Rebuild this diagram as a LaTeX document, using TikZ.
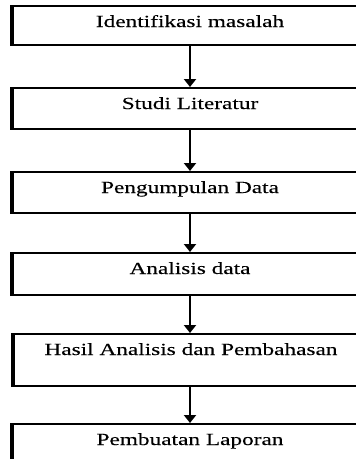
\documentclass[tikz,border=0pt]{standalone}
\usepackage{fontspec}
\setmainfont{Liberation Serif}[FakeStretch=1.37, FakeBold=0.15]
\usepackage{tikz}
\usetikzlibrary{arrows.meta}

\begin{document}
\begin{tikzpicture}[
    x=1pt, y=1pt,
    font=\fontsize{17}{20}\selectfont,
    stepbox/.style={draw, line width=2pt, inner xsep=0pt, inner ysep=0pt, minimum width=354pt, text height=21pt, anchor=north},
    arrow/.style={-{Triangle[width=12pt,length=8pt]}, line width=2pt}
]
\useasboundingbox (0,0) rectangle (356,-459);
\clip (0,0) rectangle (356,-459);

\node[stepbox, text depth=18pt] (ident) at (190,-5) {Identifikasi masalah};
\node[stepbox, text depth=20pt] (studi) at (190,-87) {Studi Literatur};
\node[stepbox, text depth=20pt] (kumpul) at (190,-171) {Pengumpulan Data};
\node[stepbox, text depth=21pt] (analisis) at (190,-252) {Analisis data};
\node[stepbox, text depth=31pt] (hasil) at (191,-333) {Hasil Analisis dan Pembahasan};
\node[stepbox, text depth=15pt] (laporan) at (190,-423) {Pembuatan Laporan};

% thicker left edges
\foreach \n in {ident,studi,kumpul,analisis,hasil,laporan}
    \draw[line width=3.2pt] (\n.north west) -- (\n.south west);

\draw[arrow] (ident.south -| 190,0) -- (studi.north -| 190,0);
\draw[arrow] (studi.south -| 190,0) -- (kumpul.north -| 190,0);
\draw[arrow] (kumpul.south -| 190,0) -- (analisis.north -| 190,0);
\draw[arrow] (analisis.south -| 190,0) -- (hasil.north -| 190,0);
\draw[arrow] (hasil.south -| 190,0) -- (laporan.north -| 190,0);

\end{tikzpicture}
\end{document}
